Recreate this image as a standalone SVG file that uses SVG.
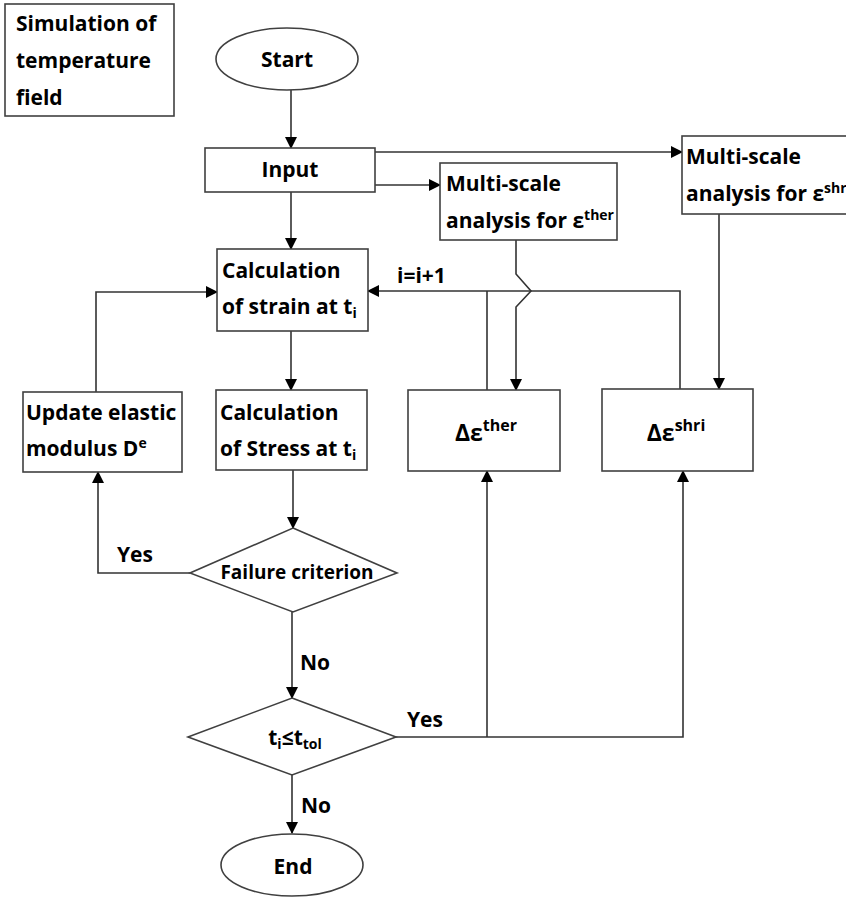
<svg xmlns="http://www.w3.org/2000/svg" width="846" height="897" viewBox="0 0 846 897">
<style>
.box{fill:#fff;stroke:#404040;stroke-width:1.6}
.ln{fill:none;stroke:#333;stroke-width:1.6}
text{font-family:"Open Sans","Liberation Sans",sans-serif;font-weight:bold;font-size:21px;fill:#000}
.c{text-anchor:middle}
.sup{font-size:14px}
.big{font-size:23px}
.bigsup{font-size:16px}
.fc{font-size:19px}
</style>
<defs>
<marker id="ah" markerUnits="userSpaceOnUse" markerWidth="12" markerHeight="12" viewBox="0 0 12 12" refX="11" refY="6" orient="auto">
<path d="M0,0 L12,6 L0,12 Z" fill="#000"/>
</marker>
</defs>
<rect width="846" height="897" fill="#fff"/>
<g id="connectors">
<path class="ln" d="M291 90 V148" marker-end="url(#ah)"/>
<path class="ln" d="M291 192 V249" marker-end="url(#ah)"/>
<path class="ln" d="M375 152 H682" marker-end="url(#ah)"/>
<path class="ln" d="M375 185 H440" marker-end="url(#ah)"/>
<path class="ln" d="M516 240 V274 L531 291 L516 307 V390" marker-end="url(#ah)"/>
<path class="ln" d="M719 214 V389" marker-end="url(#ah)"/>
<path class="ln" d="M680 389 V291 H368" marker-end="url(#ah)"/>
<path class="ln" d="M487 390 V291"/>
<path class="ln" d="M291 331 V390" marker-end="url(#ah)"/>
<path class="ln" d="M293 470 V528" marker-end="url(#ah)"/>
<path class="ln" d="M190 573 H98 V472" marker-end="url(#ah)"/>
<path class="ln" d="M96 392 V292 H217" marker-end="url(#ah)"/>
<path class="ln" d="M292 612 V698" marker-end="url(#ah)"/>
<path class="ln" d="M396 737 H683 V471" marker-end="url(#ah)"/>
<path class="ln" d="M487 737 V471" marker-end="url(#ah)"/>
<path class="ln" d="M292 775 V833" marker-end="url(#ah)"/>
<text x="397" y="283">i=i+1</text>
<text x="117" y="562">Yes</text>
<text x="300" y="670">No</text>
<text x="407" y="727">Yes</text>
<text x="301" y="813">No</text>
</g>
<g id="sim">
<rect class="box" x="5" y="4" width="169" height="112"/>
<text x="16" y="31">Simulation of</text>
<text x="16" y="68">temperature</text>
<text x="16" y="105">field</text>
</g>
<g id="start">
<ellipse class="box" cx="287" cy="59" rx="71" ry="31"/>
<text class="c" x="287" y="67">Start</text>
</g>
<g id="input">
<rect class="box" x="205" y="148" width="170" height="44"/>
<text class="c" x="290" y="177">Input</text>
</g>
<g id="ms-ther">
<rect class="box" x="440" y="163" width="177" height="77"/>
<text x="446" y="191">Multi-scale</text>
<text x="446" y="228">analysis for ε<tspan class="sup" dy="-8">ther</tspan></text>
</g>
<g id="ms-shr">
<rect class="box" x="682" y="136" width="170" height="78"/>
<text x="686" y="164">Multi-scale</text>
<text x="686" y="201">analysis for ε<tspan class="sup" dy="-8">shr</tspan></text>
</g>
<g id="calc-strain">
<rect class="box" x="217" y="249" width="151" height="82"/>
<text x="222" y="278">Calculation</text>
<text x="222" y="314">of strain at t<tspan class="sup" dy="4">i</tspan></text>
</g>
<g id="calc-stress">
<rect class="box" x="216" y="390" width="151" height="80"/>
<text x="220" y="420">Calculation</text>
<text x="220" y="456">of Stress at t<tspan class="sup" dy="4">i</tspan></text>
</g>
<g id="update">
<rect class="box" x="23" y="392" width="159" height="80"/>
<text x="26" y="420">Update elastic</text>
<text x="26" y="456">modulus D<tspan class="sup" dy="-8">e</tspan></text>
</g>
<g id="d-ther">
<rect class="box" x="408" y="390" width="152" height="81"/>
<text class="c big" x="486" y="441">Δε<tspan class="bigsup" dy="-10">ther</tspan></text>
</g>
<g id="d-shr">
<rect class="box" x="602" y="389" width="151" height="82"/>
<text class="c big" x="676" y="441">Δε<tspan class="bigsup" dy="-10">shri</tspan></text>
</g>
<g id="failure">
<polygon class="box" points="293,528 397,573 293,612 190,573"/>
<text class="c fc" x="297" y="579">Failure criterion</text>
</g>
<g id="time">
<polygon class="box" points="292,698 396,737 292,775 188,737"/>
<text class="c" x="295" y="745">t<tspan class="sup" dy="4">i</tspan><tspan dy="-4">≤t</tspan><tspan class="sup" dy="4">tol</tspan></text>
</g>
<g id="end">
<ellipse class="box" cx="292" cy="865" rx="71" ry="31"/>
<text class="c" x="293" y="874">End</text>
</g>
</svg>
